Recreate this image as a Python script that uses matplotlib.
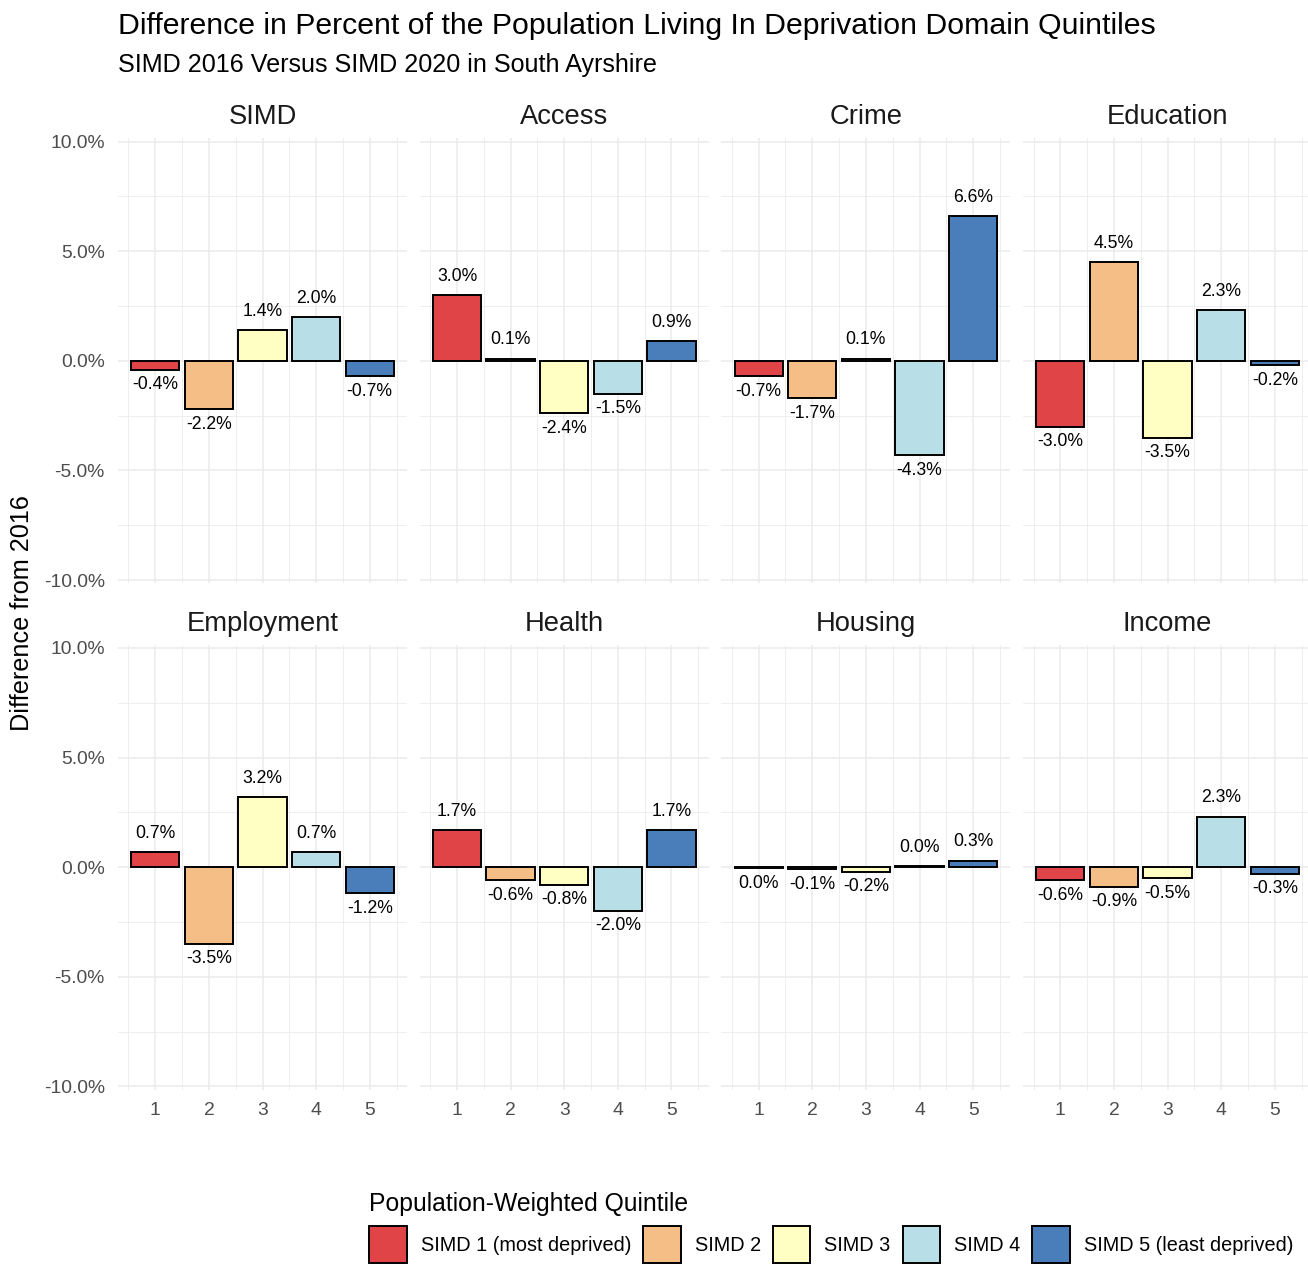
import matplotlib
matplotlib.use("Agg")
import matplotlib.pyplot as plt
from matplotlib.patches import Patch

plt.rcParams['font.family'] = ['Liberation Sans', 'DejaVu Sans']

# ---- data ----
domains = ["SIMD", "Access", "Crime", "Education",
           "Employment", "Health", "Housing", "Income"]
quintiles = [1, 2, 3, 4, 5]
simd = [-0.4, -2.2, 1.4, 2.0, -0.7]
access = [3.0, 0.1, -2.4, -1.5, 0.9]
crime = [-0.7, -1.7, 0.1, -4.3, 6.6]
education = [-3.0, 4.5, -3.5, 2.3, -0.2]
employment = [0.7, -3.5, 3.2, 0.7, -1.2]
health = [1.7, -0.6, -0.8, -2.0, 1.7]
housing = [-0.04, -0.1, -0.2, 0.04, 0.3]
income = [-0.6, -0.9, -0.5, 2.3, -0.3]
values = [simd, access, crime, education, employment, health, housing, income]
legend_labels = ["SIMD 1 (most deprived)", "SIMD 2", "SIMD 3", "SIMD 4",
                 "SIMD 5 (least deprived)"]
yticks = [-10, -5, 0, 5, 10]
ytick_labels = ["-10.0%", "-5.0%", "0.0%", "5.0%", "10.0%"]

colors = ["#E04447", "#F5BE86", "#FFFFC3", "#B8DFE8", "#4A7EBB"]

W, H = 1308, 1264
fig = plt.figure(figsize=(W / 100, H / 100), dpi=100)

col_left = [118 + c * 301.7 for c in range(4)]
row_top = [138.4, 644.7]
pw, ph = 289, 444.9

def fmt(v):
    s = f"{v:.1f}%"
    if s == "-0.0%":
        s = "0.0%"
    return s

for i, (name, vals) in enumerate(zip(domains, values)):
    r, c = divmod(i, 4)
    ax = fig.add_axes([col_left[c] / W, 1 - (row_top[r] + ph) / H, pw / W, ph / H])
    ax.set_xlim(0.305, 5.695)
    ax.set_ylim(-10.15, 10.15)
    for s in ax.spines.values():
        s.set_visible(False)
    ax.set_xticks(quintiles)
    ax.set_xticks([0.5, 1.5, 2.5, 3.5, 4.5, 5.5], minor=True)
    ax.set_yticks(yticks)
    ax.set_yticks([-7.5, -2.5, 2.5, 7.5], minor=True)
    ax.grid(True, which='major', color='#EBEBEB', linewidth=1.1)
    ax.grid(True, which='minor', color='#EBEBEB', linewidth=0.6)
    ax.set_axisbelow(True)
    ax.tick_params(which='both', length=0)
    if c == 0:
        ax.set_yticklabels(ytick_labels)
        ax.tick_params(axis='y', labelsize=13.9, labelcolor='#4D4D4D', pad=9.4)
    else:
        ax.set_yticklabels([])
    if r == 1:
        ax.set_xticklabels([str(q) for q in quintiles])
        ax.tick_params(axis='x', labelsize=13.9, labelcolor='#4D4D4D', pad=9.0)
    else:
        ax.set_xticklabels([])
    ax.bar(quintiles, vals, width=0.9, color=colors, edgecolor='black',
           linewidth=1.4, zorder=3)
    for q, v in zip(quintiles, vals):
        if v >= 0:
            ax.annotate(fmt(v), (q, v), xytext=(0, 13.5), textcoords='offset points',
                        ha='center', va='center', fontsize=12.7, color='black')
        else:
            ax.annotate(fmt(v), (q, v), xytext=(0, -10.8), textcoords='offset points',
                        ha='center', va='center', fontsize=12.7, color='black')
    ax.text(0.5, 1 + 21.0 / ph, name, transform=ax.transAxes, ha='center',
            va='center', fontsize=19.7, color='#1A1A1A')

fig.text(118 / W, 1 - 26 / H,
         "Difference in Percent of the Population Living In Deprivation Domain Quintiles",
         ha='left', va='center', fontsize=21.8, color='black')
fig.text(118 / W, 1 - 65 / H, "SIMD 2016 Versus SIMD 2020 in South Ayrshire",
         ha='left', va='center', fontsize=18.1, color='black')
fig.text(22 / W, 1 - 613 / H, "Difference from 2016", rotation=90,
         ha='center', va='center', fontsize=18.2, color='black')

handles = [Patch(facecolor=col, edgecolor='black', linewidth=1.4) for col in colors]
fig.legend(handles, legend_labels, loc='upper left',
           bbox_to_anchor=(369 / W, 1 - 1192 / H), ncol=5, frameon=False,
           title="Population-Weighted Quintile", fontsize=14.3, title_fontsize=17.8,
           handlelength=1.9, handleheight=2.5, handletextpad=0.7,
           columnspacing=0.6, alignment='left', borderpad=0, borderaxespad=0)

fig.savefig("out.png", dpi=100, facecolor='white')
